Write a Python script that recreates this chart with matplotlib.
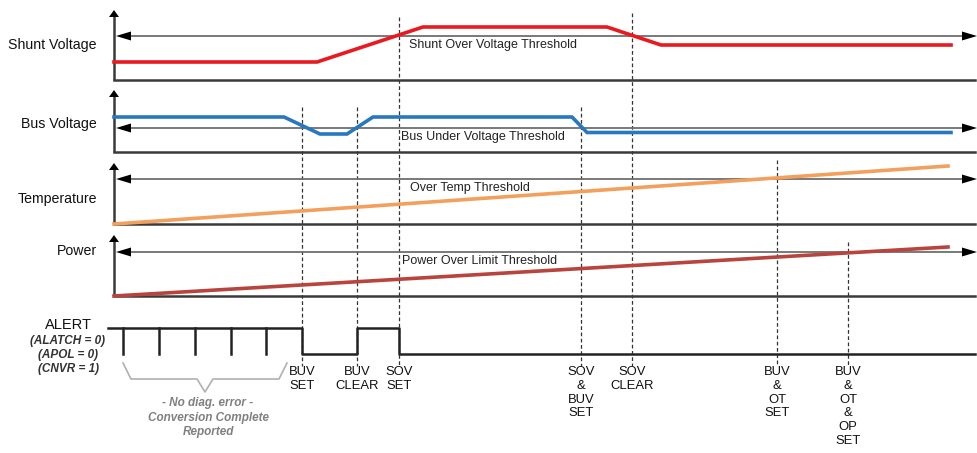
import numpy as np
import matplotlib.pyplot as plt
from matplotlib.patches import Polygon

plt.rcParams['font.family'] = ['Liberation Sans', 'DejaVu Sans']

# time axis in pixel columns of the drawing, levels in pixels above each panel baseline
shunt_t = [114, 317, 423, 607, 661, 951]
shunt_v = [18, 18, 53, 53, 35, 35]
shunt_thr = 44

bus_t = [114, 284, 320, 347, 373, 572, 587, 951]
bus_v = [35, 35, 18, 18, 35, 35, 19.5, 19.5]
bus_thr = 24

temp_t = [114, 948]
temp_v = [0, 58]
temp_thr = 45

power_t = [114, 948]
power_v = [0, 49]
power_thr = 44

# alert: (time, level) 1 = high, 0 = low
alert_t = [108, 302, 302, 357, 357, 399, 399, 975]
alert_v = [1, 1, 0, 0, 1, 1, 0, 0]
pulse_t = [123, 159, 195, 231, 266]

events_t = [302, 357, 399, 581, 632, 777, 848]
events_top = [107, 107, 17, 107, 13, 160, 242]
events_lbl = ['BUV\nSET', 'BUV\nCLEAR', 'SOV\nSET', 'SOV\n&\nBUV\nSET',
              'SOV\nCLEAR', 'BUV\n&\nOT\nSET', 'BUV\n&\nOT\n&\nOP\nSET']

# panel layout: name, baseline y, arrow tip y, threshold label, label x, colour
panels = [
    ('Shunt Voltage', 80, 10, 'Shunt Over Voltage Threshold', 493, '#e8191f', shunt_t, shunt_v, shunt_thr),
    ('Bus Voltage', 152, 90, 'Bus Under Voltage Threshold', 483, '#2878c0', bus_t, bus_v, bus_thr),
    ('Temperature', 224, 163, 'Over Temp Threshold', 470, '#f2a05c', temp_t, temp_v, temp_thr),
    ('Power', 296, 235, 'Power Over Limit Threshold', 480, '#b8443e', power_t, power_v, power_thr),
]
label_y = [45, 124, 199, 251]

X0, X1 = 114, 975
AX = '#3a3a3a'


def head(ax, x, y, d, length, hw, color):
    # filled triangular arrowhead, d in {'up', 'left', 'right'}
    if d == 'up':
        pts = [(x, y), (x - hw, y + length), (x + hw, y + length)]
    elif d == 'left':
        pts = [(x, y), (x + length, y - hw), (x + length, y + hw)]
    else:
        pts = [(x, y), (x - length, y - hw), (x - length, y + hw)]
    ax.add_patch(Polygon(pts, closed=True, color=color, lw=0, zorder=5))


fig = plt.figure(figsize=(9.77, 4.53), dpi=100)
ax = fig.add_axes([0, 0, 1, 1])
ax.set_xlim(0, 977)
ax.set_ylim(453, 0)
ax.axis('off')

for (name, base, tip, thr_lbl, thr_x, col, t, v, thr), ly in zip(panels, label_y):
    # axes
    ax.plot([X0, X0], [base, tip + 6], color=AX, lw=1.8, solid_capstyle='butt', zorder=4)
    head(ax, X0, tip, 'up', 7, 5, 'black')
    ax.plot([X0, X1], [base, base], color=AX, lw=1.8, zorder=4)
    # threshold double arrow
    ty = base - thr
    ax.plot([X0 + 10, 977 - 10], [ty, ty], color='#6e6e6e', lw=1.3, zorder=3)
    head(ax, X0 + 2, ty, 'left', 15, 4.5, 'black')
    head(ax, 977, ty, 'right', 15, 4.5, 'black')
    ax.text(thr_x, ty + 9, thr_lbl, ha='center', va='center', fontsize=9, color='#222222', zorder=6)
    # signal
    ax.plot(t, base - np.array(v), color=col, lw=2.6, solid_joinstyle='miter', zorder=6)
    ax.text(97, ly, name, ha='right', va='center', fontsize=10.2, color='#111111')

# alert trace
ah, al = 328, 354
ax.plot(alert_t, [al + (ah - al) * s for s in alert_v], color='#222222', lw=1.8, zorder=4)
for p in pulse_t:
    ax.plot([p, p], [ah, al], color='#222222', lw=1.8, zorder=4)

ax.text(68, 325, 'ALERT', ha='center', va='center', fontsize=10.5, color='#111111')
for txt, yy in zip(['(ALATCH = 0)', '(APOL = 0)', '(CNVR = 1)'], [341, 355, 369]):
    ax.text(68, yy, txt, ha='center', va='center', fontsize=8.5, style='italic',
            fontweight='bold', color='#333333')

# brace under the conversion pulses
ax.plot([123, 131, 197, 205, 213, 279, 287], [363, 379, 379, 392, 379, 379, 363],
        color='#b0b0b0', lw=1.2)
for txt, yy in zip(['- No diag. error -', 'Conversion Complete', 'Reported'], [403, 418, 432]):
    ax.text(208, yy, txt, ha='center', va='center', fontsize=8.5, style='italic',
            fontweight='bold', color='#808080')

# event markers
for x, top, lbl in zip(events_t, events_top, events_lbl):
    ax.plot([x, x], [top, 366], color='#333333', lw=0.9, ls=(0, (3, 2)), zorder=2)
    ax.text(x, 366, lbl, ha='center', va='top', fontsize=9.4, linespacing=1.2, color='#111111')

plt.savefig('out.png', dpi=100)
